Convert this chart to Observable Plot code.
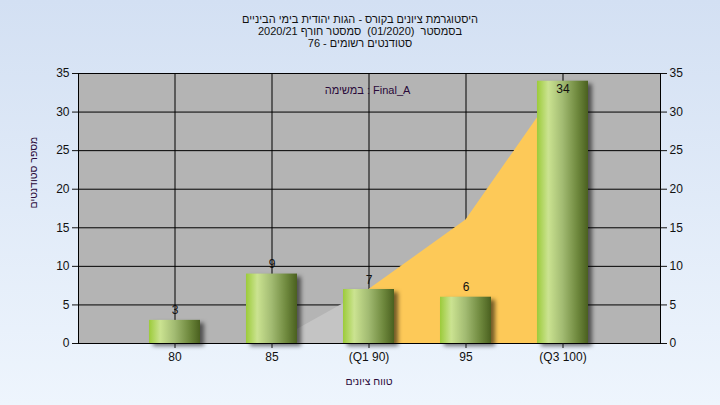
<!DOCTYPE html>
<html><head><meta charset="utf-8">
<script src="https://cdn.jsdelivr.net/npm/d3@7"></script>
<script src="https://cdn.jsdelivr.net/npm/@observablehq/plot@0.6"></script>
<style>
html,body{margin:0;padding:0;}
body{width:720px;height:405px;background:linear-gradient(#d3e0f3,#eef5fd);overflow:hidden;font-family:'Liberation Sans',Arial,sans-serif;}
#title{height:50px;box-sizing:border-box;padding-top:13px;text-align:center;font-size:11px;line-height:12px;color:#111;}
.line{white-space:pre;direction:rtl;unicode-bidi:isolate;}
#xlabel{height:30px;box-sizing:border-box;padding-left:18px;text-align:center;font-size:10.5px;line-height:12px;color:#2a0a3a;direction:rtl;white-space:pre;}
#chart svg{display:block;}
#chart g[aria-label="bar"] rect{filter:drop-shadow(4px 3px 2px rgba(0,0,0,0.55));}
</style></head><body>
<div id="title"></div>
<div id="chart"></div>
<div id="xlabel"></div>
<script>
const categories = ["80", "85", "(Q1 90)", "95", "(Q3 100)"];
const counts = [3, 9, 7, 6, 34];
const areaValues = [0, 0, 7, 16, 34];
const grayRange = ["80", "85", "(Q1 90)"];
const yellowRange = ["(Q1 90)", "95", "(Q3 100)"];
const yTicks = [0, 5, 10, 15, 20, 25, 30, 35];
const titleLines = [
  "היסטוגרמת ציונים בקורס - הגות יהודית בימי הביניים",
  "בסמסטר  (01/2020)  סמסטר חורף 2020/21",
  "סטודנטים רשומים - 76"
];
const legendText = "במשימה : Final_A";
const xLabel = "טווח ציונים";
const yLabel = "מספר סטודנטים";

const titleDiv = document.getElementById("title");
titleLines.forEach(l => {
  const d = document.createElement("div");
  d.className = "line";
  d.textContent = l;
  titleDiv.append(d);
});
document.getElementById("xlabel").textContent = xLabel;

const data = categories.map((c, i) => ({cat: c, count: counts[i], area: areaValues[i]}));

const defs = () => {
  const d = d3.create("svg:defs");
  const g = d.append("linearGradient").attr("id", "barGrad")
    .attr("x1", "0").attr("x2", "1").attr("y1", "0").attr("y2", "0");
  [[0, "#9ccb3a"], [0.22, "#cbe391"], [0.5, "#a2bb72"], [0.8, "#6d873c"], [1, "#4a601f"]]
    .forEach(([o, c]) => g.append("stop").attr("offset", o).attr("stop-color", c));
  return d.node();
};

const chart = Plot.plot({
  width: 720,
  height: 325,
  marginLeft: 78,
  marginRight: 60,
  marginTop: 23,
  marginBottom: 32,
  style: {background: "transparent", fontFamily: "'Liberation Sans', Arial, sans-serif", fontSize: "12px", color: "#111", overflow: "visible"},
  x: {type: "band", domain: categories, insetLeft: 48.5, insetRight: 48.5, paddingInner: 0.47, paddingOuter: 0.235},
  y: {domain: [0, 35]},
  marks: [
    defs,
    Plot.frame({fill: "#b4b4b4"}),
    Plot.gridY({ticks: yTicks, stroke: "black", strokeOpacity: 1}),
    Plot.gridX({stroke: "black", strokeOpacity: 1}),
    Plot.areaY(data.filter(d => grayRange.includes(d.cat)), {x: "cat", y: "area", fill: "#c4c4c4"}),
    Plot.areaY(data.filter(d => yellowRange.includes(d.cat)), {x: "cat", y: "area", fill: "#fdc958"}),
    Plot.barY(data, {x: "cat", y: "count", fill: "url(#barGrad)"}),
    Plot.text(data.filter(d => d.count < 30), {x: "cat", y: "count", text: "count", lineAnchor: "bottom", dy: -6, fill: "#111"}),
    Plot.text(data.filter(d => d.count >= 30), {x: "cat", y: "count", text: "count", lineAnchor: "top", dy: 3, fill: "#111"}),
    Plot.frame({stroke: "black"}),
    Plot.axisX({tickSize: 5, tickPadding: 4, label: null}),
    Plot.axisY({anchor: "left", ticks: yTicks, tickSize: 6, tickPadding: 3, label: null}),
    Plot.axisY({anchor: "right", ticks: yTicks, tickSize: 6, tickPadding: 3, label: null}),
    Plot.text([legendText], {frameAnchor: "top", dx: -2, dy: 13, fontSize: 11, fill: "#2a0a3a"}),
    Plot.text([yLabel], {frameAnchor: "left", dx: -45, rotate: -90, fontSize: 10.5, fill: "#2a0a3a"})
  ]
});
document.getElementById("chart").append(chart);
</script>
</body></html>
